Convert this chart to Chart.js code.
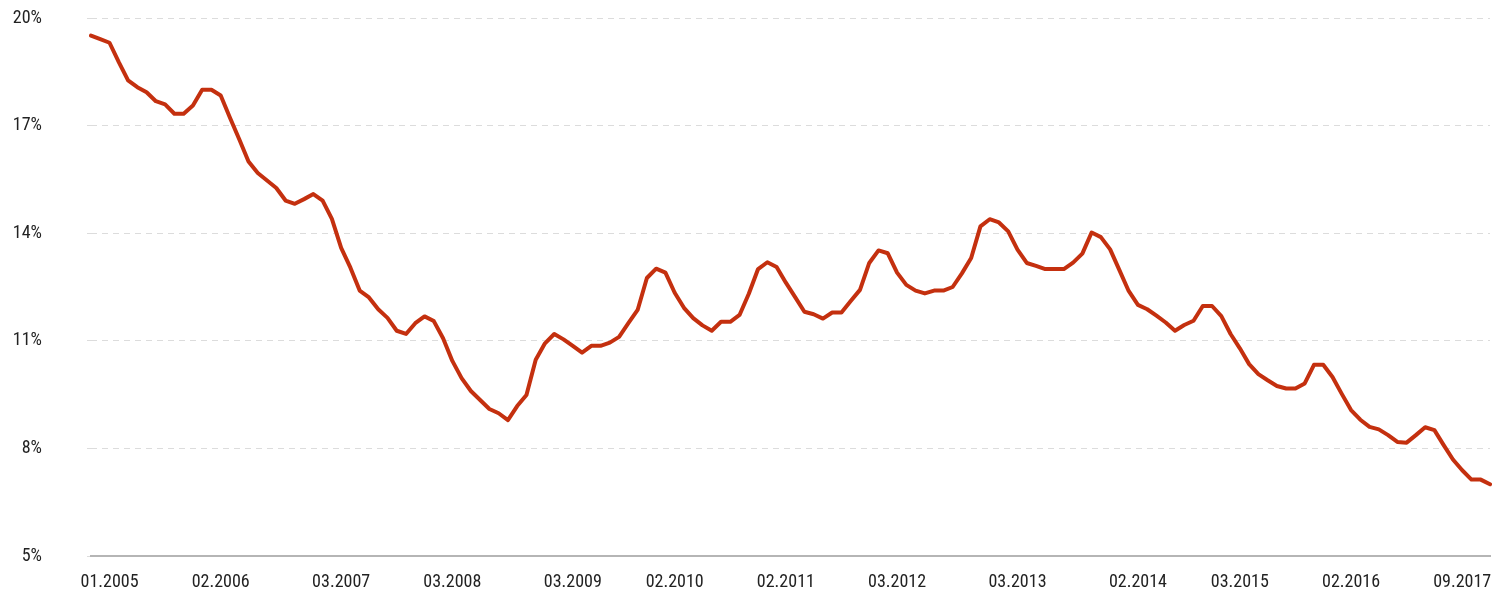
<!DOCTYPE html>
<html>
<head>
<meta charset="utf-8">
<script src="https://cdn.jsdelivr.net/npm/chart.js@4/dist/chart.umd.min.js"></script>
<style>
  html, body { margin: 0; padding: 0; background: #fff; }
  #wrap { width: 1493px; height: 589px; position: relative; }
</style>
</head>
<body>
<div id="wrap"><canvas id="chart"></canvas></div>
<script>
// monthly share in %
const values = [
    19.51, 19.41, 19.31, 18.77, 18.26, 18.07, 17.93, 17.68, 17.59, 17.33,
    17.33, 17.56, 18.0, 18.0, 17.84, 17.22, 16.62, 16.0, 15.68, 15.47,
    15.26, 14.91, 14.82, 14.95, 15.09, 14.91, 14.4, 13.59, 13.04, 12.40,
    12.21, 11.88, 11.64, 11.28, 11.19, 11.49, 11.68, 11.55, 11.07, 10.44,
    9.96, 9.60, 9.35, 9.10, 8.98, 8.79, 9.18, 9.49, 10.47, 10.93,
    11.19, 11.04, 10.86, 10.67, 10.86, 10.86, 10.95, 11.11, 11.49, 11.86,
    12.75, 13.01, 12.90, 12.34, 11.92, 11.63, 11.43, 11.28, 11.53, 11.53,
    11.72, 12.31, 13.0, 13.19, 13.06, 12.62, 12.22, 11.81, 11.74, 11.62,
    11.79, 11.79, 12.11, 12.42, 13.17, 13.52, 13.44, 12.90, 12.56, 12.40,
    12.32, 12.40, 12.40, 12.50, 12.88, 13.31, 14.19, 14.39, 14.30, 14.05,
    13.54, 13.17, 13.09, 13.0, 13.0, 13.0, 13.18, 13.43, 14.02, 13.89,
    13.55, 12.97, 12.39, 12.0, 11.88, 11.70, 11.51, 11.28, 11.44, 11.56,
    11.97, 11.97, 11.69, 11.19, 10.79, 10.35, 10.07, 9.90, 9.74, 9.67,
    9.67, 9.81, 10.33, 10.33, 9.99, 9.52, 9.07, 8.80, 8.60, 8.53,
    8.37, 8.18, 8.16, 8.37, 8.59, 8.51, 8.09, 7.69, 7.39, 7.13,
    7.13, 7.0
];

// shown x labels and the point they sit under
const tickLabels = ['01.2005', '02.2006', '03.2007', '03.2008', '03.2009', '02.2010', '02.2011',
    '03.2012', '03.2013', '02.2014', '03.2015', '02.2016', '09.2017'];
const tickIndex = [2, 14, 27, 39, 52, 63, 75, 87, 100, 113, 124, 136, 148];

const yTicks = [5, 8, 11, 14, 17, 20];

const labels = values.map((v, i) => {
    const k = tickIndex.indexOf(i);
    return k >= 0 ? tickLabels[k] : '';
});

const font = { family: '"Liberation Sans Narrow", "Arial Narrow", "Roboto Condensed", "Liberation Sans", sans-serif', size: 18 };

new Chart(document.getElementById('chart'), {
    type: 'line',
    data: {
        labels: labels,
        datasets: [{
            data: values,
            borderColor: '#c4300f',
            borderWidth: 4,
            borderJoinStyle: 'round',
            borderCapStyle: 'round',
            pointRadius: 0,
            tension: 0,
            fill: false
        }]
    },
    options: {
        animation: false,
        maintainAspectRatio: false,
        responsive: true,
        layout: { padding: { top: 18, right: 3, left: 0, bottom: 0 } },
        plugins: {
            legend: { display: false },
            tooltip: { enabled: false }
        },
        scales: {
            x: {
                grid: { display: false, drawTicks: false },
                border: { display: true, color: '#b5b5b5', width: 2 },
                ticks: {
                    autoSkip: false,
                    maxRotation: 0,
                    minRotation: 0,
                    padding: 16,
                    color: '#222',
                    font: font
                },
                afterFit: (s) => {
                    s.height = 33;
                    s.paddingLeft = 0;
                    s.paddingRight = 0;
                }
            },
            y: {
                min: 5,
                max: 20,
                afterBuildTicks: (s) => { s.ticks = yTicks.map(v => ({ value: v })); },
                grid: {
                    color: '#dcdcdc',
                    lineWidth: 1,
                    drawTicks: true,
                    tickLength: 4,
                    tickColor: '#dcdcdc',
                    tickBorderDash: [6, 5]
                },
                border: { display: false, dash: [6, 5] },
                ticks: {
                    padding: 45,
                    color: '#222',
                    font: font,
                    callback: (v) => v + '%'
                },
                afterFit: (s) => {
                    s.width = 91;
                    s.paddingTop = 0;
                    s.paddingBottom = 0;
                }
            }
        }
    }
});
</script>
</body>
</html>
